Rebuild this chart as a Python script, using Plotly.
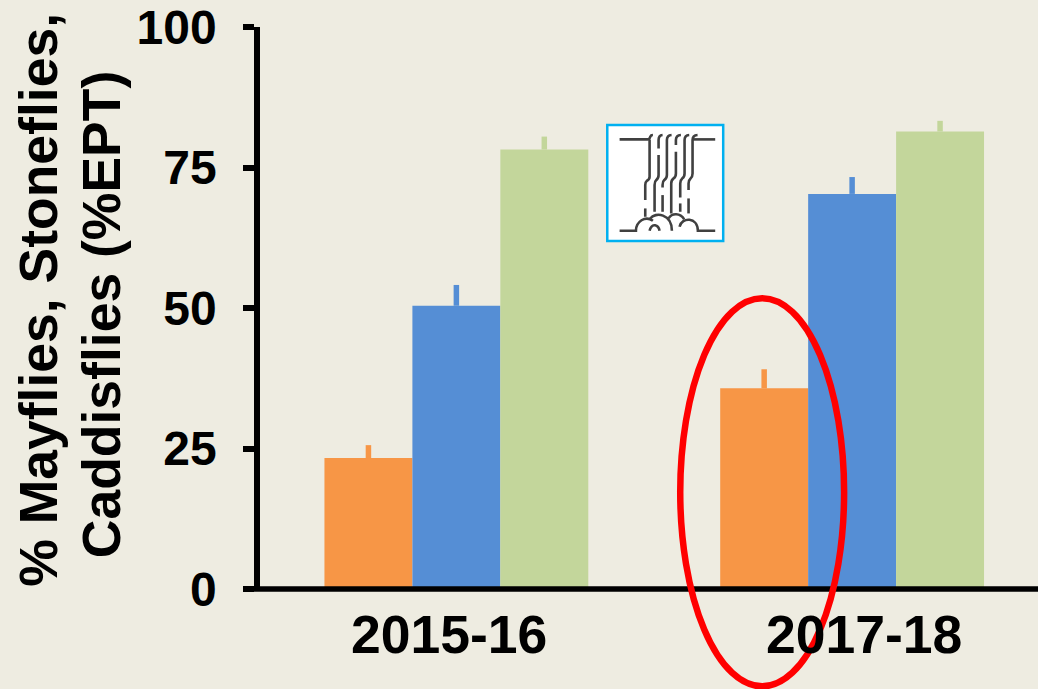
import plotly.graph_objects as go

W, H = 1038, 689
L, T, B = 259.5, 27, 588.7
categories = ["2015-16", "2017-18"]
series_a = [23.3, 35.7]
series_b = [50.4, 70.3]
series_c = [78.2, 81.4]
err_a = [2.3, 3.4]
err_b = [3.7, 3.0]
err_c = [2.3, 1.9]
y_ticks = [0, 25, 50, 75, 100]
y_title_lines = ["% Mayflies, Stoneflies,", "Caddisflies (%EPT)"]
BG = "#EEECE1"
COL_A, COL_B, COL_C = "#F79646", "#558ED5", "#C3D69B"
FONT = "Liberation Sans"

fig = go.Figure()
for name, vals, errs, col in [("A", series_a, err_a, COL_A),
                              ("B", series_b, err_b, COL_B),
                              ("C", series_c, err_c, COL_C)]:
    fig.add_trace(go.Bar(x=categories, y=vals, name=name, marker=dict(color=col, line=dict(width=0)),
                         error_y=dict(type="data", symmetric=False, array=errs,
                                      arrayminus=[0, 0], color=col, thickness=5.5, width=0),
                         showlegend=False))

def px(x): return (x - L) / (W - L)
def py(y): return 1 - (y - T) / (B - T)
def path(*segs):
    out = []
    for s in segs:
        cmd, pts = s[0], s[1:]
        out.append(cmd + " ".join(f"{px(590+pts[i]/3):.5f},{py(110+pts[i+1]/3):.5f}" for i in range(0, len(pts), 2)))
    return " ".join(out)

shapes = [dict(type="line", xref="paper", yref="paper", x0=px(243), x1=px(1038), y0=py(B), y1=py(B),
               line=dict(color="black", width=5.5)),
          dict(type="rect", xref="paper", yref="paper", x0=px(607), x1=px(723), y0=py(241), y1=py(125),
               fillcolor="white", line=dict(color="#00B0F0", width=2.5))]
icon = [
    [("M",88,88),("L",172,88),("Q",178,88,180,80),("Q",182,75,188,75)],
    [("M",178,88),("L",178,200),("Q",178,208,170,212),("Q",165,216,165,225),("L",165,270)],
    [("M",165,295),("L",165,320)],
    [("M",217,75),("Q",205,76,205,90),("L",205,115)],
    [("M",205,135),("L",205,195),("Q",205,205,198,210),("Q",193,214,193,225),("L",193,305)],
    [("M",244,75),("Q",230,76,230,90),("L",230,195),("Q",230,205,222,210),("Q",217,214,217,225),("L",217,232)],
    [("M",217,255),("L",217,305)],
    [("M",272,75),("Q",257,76,257,90),("L",257,105)],
    [("M",257,125),("L",257,190),("Q",257,200,250,205),("Q",243,210,243,220),("L",243,310)],
    [("M",297,75),("Q",283,76,283,90),("L",283,190),("Q",283,200,276,205),("Q",270,210,270,220),("L",270,262)],
    [("M",270,280),("L",270,305)],
    [("M",322,75),("Q",307,76,307,90),("L",307,190),("Q",307,200,301,205),("Q",295,210,295,220),("L",295,240)],
    [("M",295,265),("L",295,310)],
    [("M",307,88),("L",375,88)],
    [("M",88,362),("L",137,362),("C",137,335,165,315,188,332)],
    [("M",180,325),("C",195,305,245,310,245,362)],
    [("M",235,325),("C",245,308,270,308,282,328)],
    [("M",268,350),("C",275,320,322,320,323,362),("L",375,362)],
    [("M",178,362),("C",185,335,205,345,208,362)],
]
for p in icon:
    shapes.append(dict(type="path", xref="paper", yref="paper", path=path(*p),
                       line=dict(color="#404040", width=2.6)))
shapes.append(dict(type="circle", xref="paper", yref="paper", x0=px(680), x1=px(844), y0=py(686), y1=py(298),
                   line=dict(color="#FF0000", width=6.5), fillcolor="rgba(0,0,0,0)"))

annotations = [
    dict(text=f"<b>{y_title_lines[0]}</b>", xref="paper", yref="paper",
         x=px(38), y=py(300), textangle=-90, showarrow=False,
         font=dict(family=FONT, size=53.5, color="black"), xanchor="center", yanchor="middle"),
    dict(text=f"<b>{y_title_lines[1]}</b>", xref="paper", yref="paper",
         x=px(101), y=py(314.5), textangle=-90, showarrow=False,
         font=dict(family=FONT, size=53.5, color="black"), xanchor="center", yanchor="middle"),
    dict(text=f"<b>{categories[0]}</b>", x=categories[0], xshift=-7.5, xref="x", yref="paper", y=py(634), showarrow=False,
         font=dict(family=FONT, size=53.5, color="black"), xanchor="center", yanchor="middle"),
    dict(text=f"<b>{categories[1]}</b>", x=categories[1], xshift=12, xref="x", yref="paper", y=py(634), showarrow=False,
         font=dict(family=FONT, size=53.5, color="black"), xanchor="center", yanchor="middle"),
]

fig.update_layout(
    width=W, height=H, autosize=False, paper_bgcolor=BG, plot_bgcolor=BG,
    margin=dict(l=L, r=0, t=T, b=H-B, pad=0),
    barmode="group", bargap=1/3, bargroupgap=0,
    shapes=shapes, annotations=annotations,
    xaxis=dict(type="category", range=[-0.4962, 1.4697], showline=False,
               ticks="", showticklabels=False, showgrid=False, zeroline=False),
    yaxis=dict(range=[0, 100], tickvals=y_ticks, showline=True, linecolor="black", linewidth=5.5,
               ticks="outside", ticklen=11, tickwidth=5.5, tickcolor="black", showgrid=False, zeroline=False,
               tickfont=dict(family=FONT, size=48, color="black", weight=700), ticklabelstandoff=17),
)
fig.write_html("out.html", config=dict(displayModeBar=False),
               post_script="document.body.style.margin='0';document.body.style.overflow='hidden';")
